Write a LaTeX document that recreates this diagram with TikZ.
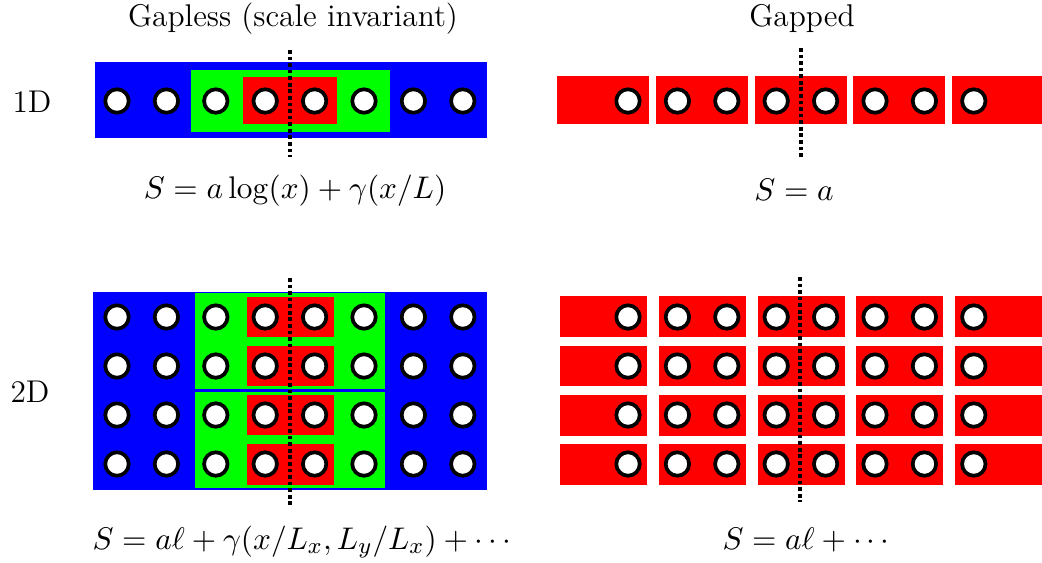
\documentclass[tikz,border=0pt]{standalone}
\begin{document}
\begin{tikzpicture}[x=0.35pt,y=-0.35pt,
  font=\fontsize{11}{13}\selectfont,
  site/.style={circle,draw=black,fill=white,line width=1.3pt,minimum size=8.2pt,inner sep=0pt},
  cut/.style={line width=1.2pt,dash pattern=on 1.3pt off 1pt},
  bluebox/.style={fill=blue},
  greenbox/.style={fill=green},
  redbox/.style={fill=red},
  lbl/.style={anchor=base,inner sep=0pt}]
\useasboundingbox (0,0) rectangle (1042,562);
% titles
\node[lbl] (t1) at (293,26) {Gapless (scale invariant)};
\node[lbl] (t2) at (802,26) {Gapped};
\node[lbl] (r1) at (32,112) {1D};
\node[lbl] (r2) at (30,402) {2D};
% ---------- 1D gapless
\fill[bluebox] (95,62) rectangle (487,138);
\fill[greenbox] (191,70) rectangle (390,132);
\fill[redbox] (243,77) rectangle (337,124);
\foreach \i in {0,...,7}{
  \node[site] (a-\i) at (117+49.4*\i,101) {};
}
\coordinate (c1t) at (290,50);
\coordinate (c1b) at (290,157);
\draw[cut] (c1t) -- (c1b);
% ---------- 1D gapped
\foreach \k in {0,...,4}{
  \fill[redbox] (557+98.8*\k,76) rectangle (649+98.8*\k,124);
}
\foreach \i in {0,...,7}{
  \node[site] (b-\i) at (628+49.4*\i,101) {};
}
\coordinate (c2t) at (801,48);
\coordinate (c2b) at (801,157);
\draw[cut] (c2t) -- (c2b);
% ---------- equations 1D
\node[lbl] (e1) at (295,198) {$S = a\log(x)+\gamma(x/L)$};
\node[lbl] (e2) at (794,200) {$S = a$};
% ---------- 2D gapless
\fill[bluebox] (93,292) rectangle (487,490);
\fill[greenbox] (195,293) rectangle (385,389);
\fill[greenbox] (195,392) rectangle (385,488);
\foreach \y/\yy in {297/337,346/386,395/435,444/485}{
  \fill[redbox] (247,\y) rectangle (334,\yy);
}
\foreach \j/\y in {0/317,1/366,2/415,3/464}{
  \foreach \i in {0,...,7}{
    \node[site] (c-\j-\i) at (117+49.4*\i,\y) {};
  }
}
\coordinate (c3t) at (290,278);
\coordinate (c3b) at (290,505);
\draw[cut] (c3t) -- (c3b);
% ---------- 2D gapped
\foreach \y/\yy in {296/337,346/386,395/436,444/485}{
  \foreach \k in {0,...,4}{
    \fill[redbox] (560+98.8*\k,\y) rectangle (647+98.8*\k,\yy);
  }
}
\foreach \j/\y in {0/317,1/366,2/415,3/464}{
  \foreach \i in {0,...,7}{
    \node[site] (d-\j-\i) at (628+49.4*\i,\y) {};
  }
}
\coordinate (c4t) at (800,277);
\coordinate (c4b) at (800,502);
\draw[cut] (c4t) -- (c4b);
% ---------- equations 2D
\node[lbl] (e3) at (302,549) {$S = a\ell+\gamma(x/L_x,L_y/L_x)+\cdots$};
\node[lbl] (e4) at (806,549) {$S = a\ell+\cdots$};
\end{tikzpicture}
\end{document}
